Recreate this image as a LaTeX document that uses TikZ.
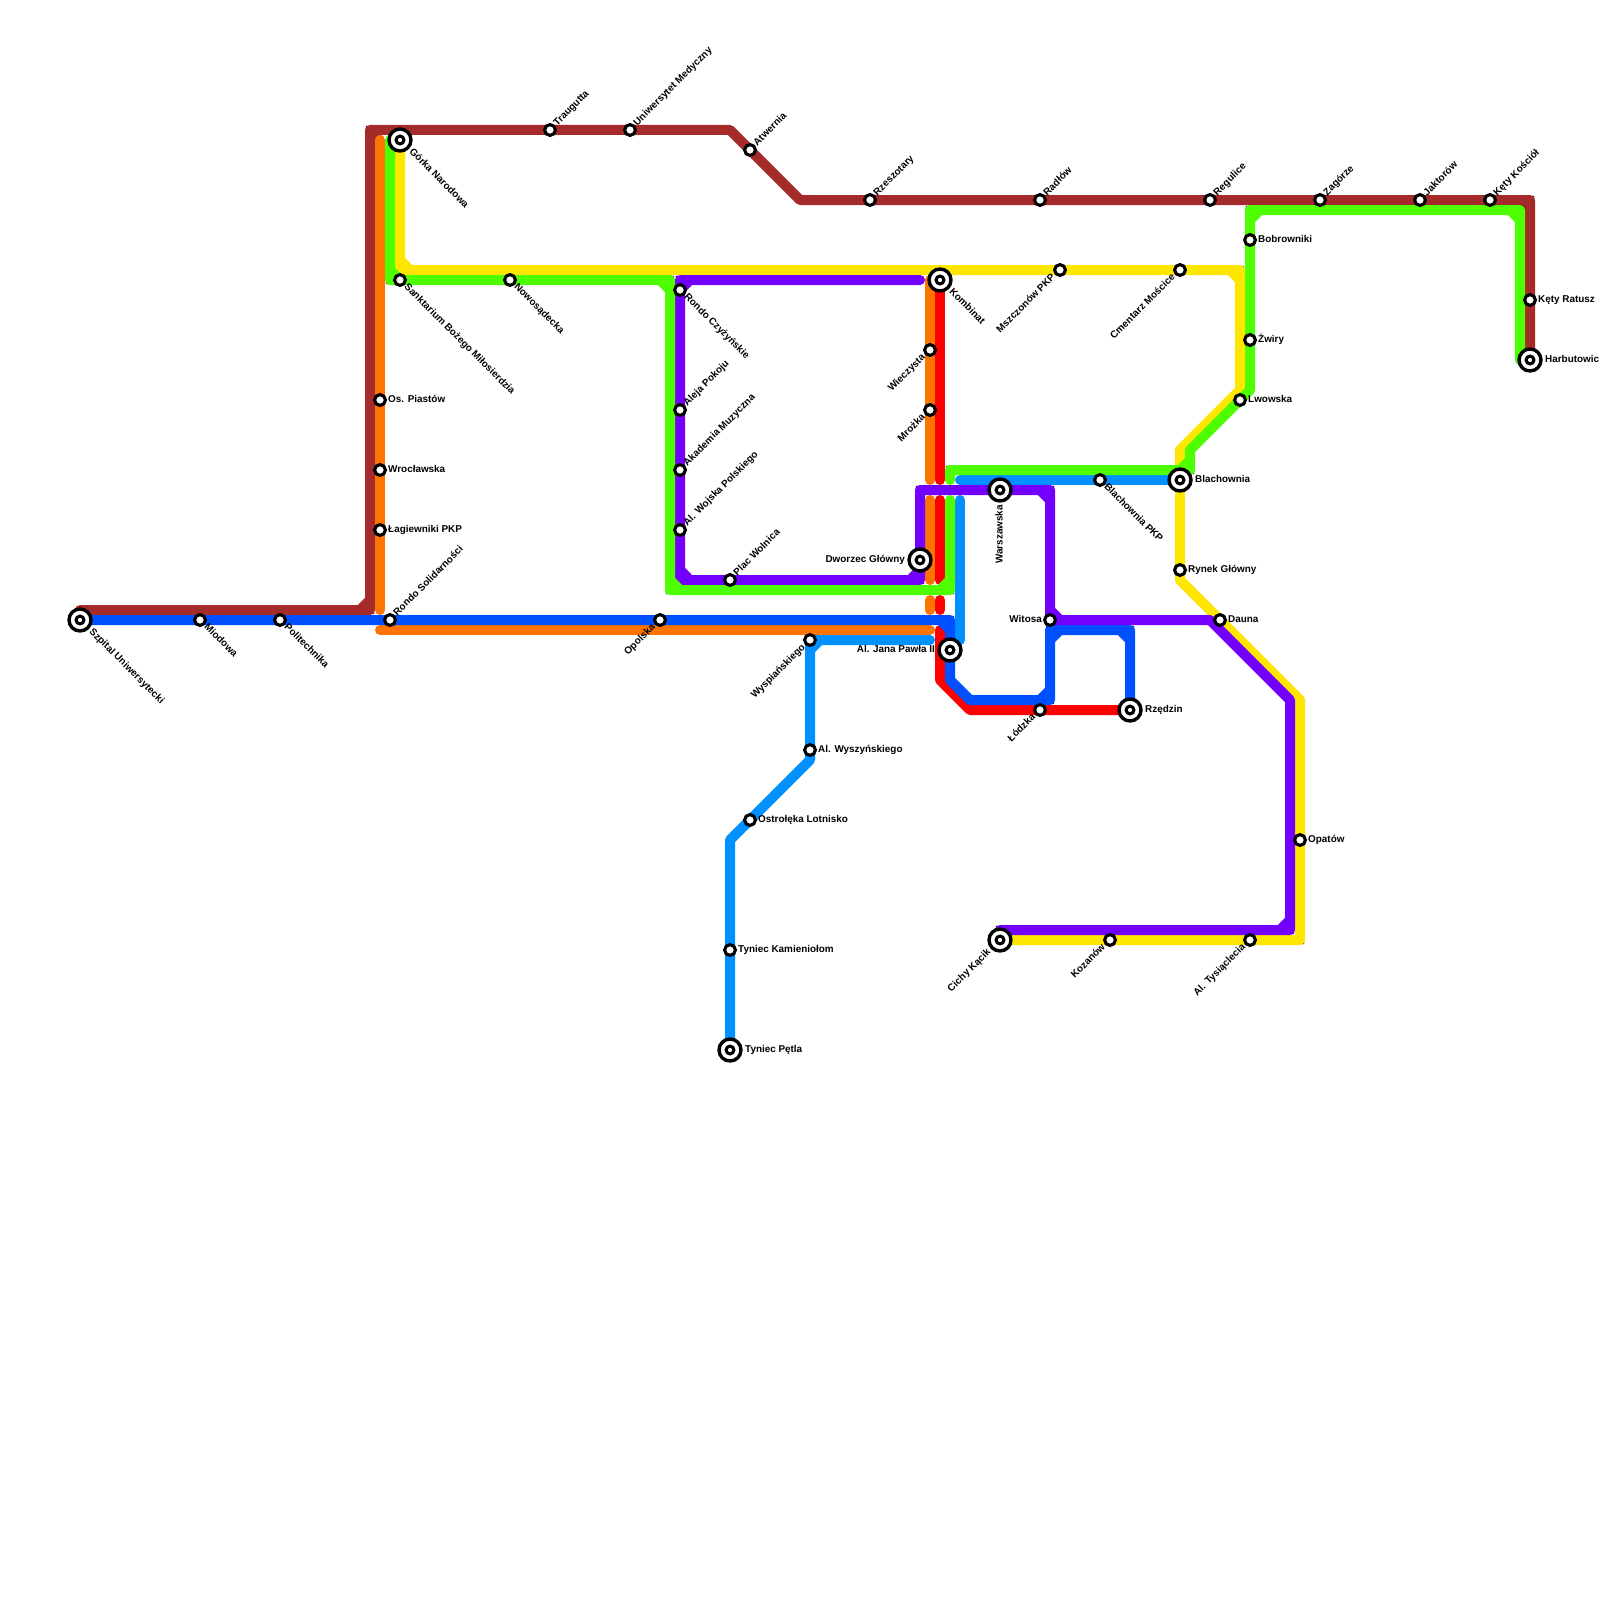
\documentclass[tikz,border=0pt]{standalone}
\usepackage{fontspec}
\setmainfont{Liberation Sans}
\usepackage{xcolor}
\usetikzlibrary{positioning,backgrounds}
\definecolor{lbrown}{HTML}{A52A2A}
\definecolor{lorange}{HTML}{FF7300}
\definecolor{lgreen}{HTML}{4DFF00}
\definecolor{lyellow}{HTML}{FFE600}
\definecolor{lpurple}{HTML}{7300FF}
\definecolor{lblue}{HTML}{0050FF}
\definecolor{lsky}{HTML}{0090FF}
\definecolor{lred}{HTML}{FF0000}
\tikzset{
  route/.style={line width=10pt, line cap=round, line join=round,
                preaction={draw, line width=8.4pt, line join=miter}},
  stn/.style={circle, draw=black, fill=white, line width=3.1pt, minimum size=10.8pt, inner sep=0pt},
  hub/.style={circle, draw=black, fill=white, line width=3.4pt, minimum size=22pt, inner sep=0pt,
              path picture={\draw[line width=3.1pt] (path picture bounding box.center) circle (3.9pt);}},
  lbl/.style={font=\fontsize{9.9}{10}\selectfont\bfseries, inner sep=0pt, text height=7pt, text depth=2pt},
  capr/.style={lbl, anchor=west, xshift=#1},
  capl/.style={lbl, anchor=east, xshift=-#1},
  capse/.style={lbl, anchor=west, xshift=#1, yshift=-#1, rotate=-45},
  capne/.style={lbl, anchor=west, xshift=#1, yshift=#1, rotate=45},
  capsw/.style={lbl, anchor=east, xshift=-#1, yshift=-#1, rotate=45},
}
\begin{document}
\begin{tikzpicture}[x=10pt, y=-10pt]
\useasboundingbox (0,0) rectangle (160,160);

% --- STATIONS ---
\node[hub] (szpital) at (8,62) {};
\node[stn] (miodowa) at (20,62) {};
\node[stn] (politech) at (28,62) {};
\node[stn] (solidar) at (39,62) {};
\node[stn] (piastow) at (38,40) {};
\node[stn] (wroclaw) at (38,47) {};
\node[stn] (lagiew) at (38,53) {};
\node[hub] (gorka) at (40,14) {};
\node[stn] (sankt) at (40,28) {};
\node[stn] (nowosad) at (51,28) {};
\node[stn] (traug) at (55,13) {};
\node[stn] (uniw) at (63,13) {};
\node[stn] (atwer) at (75,15) {};
\node[stn] (rzesz) at (87,20) {};
\node[stn] (radlow) at (104,20) {};
\node[stn] (regul) at (121,20) {};
\node[stn] (zagorze) at (132,20) {};
\node[stn] (jaktor) at (142,20) {};
\node[stn] (kosciol) at (149,20) {};
\node[stn] (ratusz) at (153,30) {};
\node[hub] (harbut) at (153,36) {};
\node[stn] (bobrow) at (125,24) {};
\node[stn] (zwiry) at (125,34) {};
\node[stn] (lwow) at (124,40) {};
\node[hub] (kombinat) at (94,28) {};
\node[stn] (mszcz) at (106,27) {};
\node[stn] (cmentarz) at (118,27) {};
\node[stn] (wieczysta) at (93,35) {};
\node[stn] (mrozka) at (93,41) {};
\node[stn] (czyzyn) at (68,29) {};
\node[stn] (pokoju) at (68,41) {};
\node[stn] (akademia) at (68,47) {};
\node[stn] (wojska) at (68,53) {};
\node[stn] (wolnica) at (73,58) {};
\node[hub] (dworzec) at (92,56) {};
\node[hub] (blach) at (118,48) {};
\node[hub] (warsz) at (100,49) {};
\node[stn] (blachpkp) at (110,48) {};
\node[stn] (rynek) at (118,57) {};
\node[stn] (witosa) at (105,62) {};
\node[stn] (dauna) at (122,62) {};
\node[hub] (pawla) at (95,65) {};
\node[stn] (wyspian) at (81,64) {};
\node[stn] (opolska) at (66,62) {};
\node[stn] (wyszyn) at (81,75) {};
\node[stn] (ostrol) at (75,82) {};
\node[stn] (kamien) at (73,95) {};
\node[hub] (petla) at (73,105) {};
\node[stn] (lodzka) at (104,71) {};
\node[hub] (rzedzin) at (113,71) {};
\node[stn] (opatow) at (130,84) {};
\node[hub] (cichy) at (100,94) {};
\node[stn] (kozanow) at (111,94) {};
\node[stn] (tysiac) at (125,94) {};

% --- FREE ENDS ---
\coordinate (brownstart) at (8,61);
\coordinate (greenstart) at (39,14);
\coordinate (greenstop) at (95,50);
\coordinate (greenhalf) at (95,48);
\coordinate (greenend) at (152,36);
\coordinate (orangetop) at (38,14);
\coordinate (orangebot) at (38,61);
\coordinate (orangeleft) at (38,63);
\coordinate (orangeright) at (93,63);
\coordinate (skyright) at (93,64);
\coordinate (skytop) at (96,50);
\coordinate (purpleend) at (92,28);

% --- LINES ---
\begin{scope}[on background layer]
\draw[lyellow, route] (gorka.center) -- (40,27) -- (124,27) -- (124,39) -- (118,45) -- (118,58) -- (130,70) -- (130,94) -- (cichy.center)
  (40,26) -- (41,27) (123,27) -- (124,28);
\draw[lbrown, route] (brownstart) -- (37,61) -- (37,13) -- (73,13) -- (80,20) -- (153,20) -- (harbut.center)
  (36,61) -- (37,60) (37,14) -- (38,13) (152,20) -- (153,21);
% orange is cut where it meets the others
\draw[lorange, route] (orangetop) -- (orangebot);
\draw[lorange, route] (orangeleft) -- (orangeright);
\draw[lorange, route] (93,28) -- (93,48);
\draw[lorange, route] (93,50) -- (93,58);
\draw[lorange, route] (93,60) -- (93,61);
% red too
\draw[lred, route] (kombinat.center) -- (94,48);
\draw[lred, route] (94,50) -- (94,58);
\draw[lred, route] (94,60) -- (94,61);
\draw[lred, route] (94,63) -- (94,68) -- (97,71) -- (rzedzin.center);
% sky
\draw[lsky, route] (petla.center) -- (73,84) -- (81,76) -- (81,64) -- (skyright)
  (81,65) -- (82,64);
\draw[lsky, route] (skytop) -- (96,64);
\draw[lsky, route] (96,48) -- (blach.center);
% blue
\draw[lblue, route] (szpital.center) -- (95,62) -- (95,68) -- (97,70) -- (105,70) -- (105,63) -- (113,63) -- (rzedzin.center)
  (94,62) -- (95,63) (104,70) -- (105,69) (105,64) -- (106,63) (112,63) -- (113,64);
% purple
\draw[lpurple, route] (cichy.center) -- (100,93) -- (129,93) -- (129,70) -- (121,62) -- (105,62) -- (105,49) -- (92,49) -- (92,58) -- (68,58) -- (68,28) -- (purpleend)
  (128,93) -- (129,92) (105,61) -- (106,62) (104,49) -- (105,50) (91,58) -- (92,57) (68,57) -- (69,58) (68,29) -- (69,28);
% green
\draw[lgreen, route] (greenstart) -- (39,28) -- (67,28) -- (67,59) -- (95,59) -- (greenstop)
  (39,27) -- (40,28) (66,28) -- (67,29) (67,58) -- (68,59) (94,59) -- (95,58);
\draw[lgreen, route] (greenhalf) -- (95,47) -- (119,47) -- (119,45) -- (125,39) -- (125,21) -- (152,21) -- (greenend)
  (118,47) -- (119,46) (125,22) -- (126,21) (151,21) -- (152,22);
\end{scope}

% --- NAMES ---
\node[capse=10.5pt] (t1) at (szpital) {Szpital Uniwersytecki};
\node[capse=5.5pt] (t2) at (miodowa) {Miodowa};
\node[capse=5.5pt] (t3) at (politech) {Politechnika};
\node[capne=5.5pt] (t4) at (solidar) {Rondo Solidarności};
\node[capr=8pt] (t5) at (piastow) {Os. Piastów};
\node[capr=8pt] (t6) at (wroclaw) {Wrocławska};
\node[capr=8pt] (t7) at (lagiew) {Łagiewniki PKP};
\node[capse=10.5pt] (t8) at (gorka) {Górka Narodowa};
\node[capse=5.5pt] (t9) at (sankt) {Sanktarium Bożego Miłosierdzia};
\node[capse=5.5pt] (t10) at (nowosad) {Nowosądecka};
\node[capne=5.5pt] (t11) at (traug) {Traugutta};
\node[capne=5.5pt] (t12) at (uniw) {Uniwersytet Medyczny};
\node[capne=5.5pt] (t13) at (atwer) {Atwernia};
\node[capne=5.5pt] (t14) at (rzesz) {Rzeszotary};
\node[capne=5.5pt] (t15) at (radlow) {Radłów};
\node[capne=5.5pt] (t16) at (regul) {Regulice};
\node[capne=5.5pt] (t17) at (zagorze) {Zagórze};
\node[capne=5.5pt] (t18) at (jaktor) {Jaktorów};
\node[capne=5.5pt] (t19) at (kosciol) {Kęty Kościół};
\node[capr=8pt] (t20) at (ratusz) {Kęty Ratusz};
\node[capr=15pt] (t21) at (harbut) {Harbutowic};
\node[capr=8pt] (t22) at (bobrow) {Bobrowniki};
\node[capr=8pt] (t23) at (zwiry) {Żwiry};
\node[capr=8pt] (t24) at (lwow) {Lwowska};
\node[capse=10.5pt] (t25) at (kombinat) {Kombinat};
\node[capsw=6pt] (t26) at (mszcz) {Mszczonów PKP};
\node[capsw=6pt] (t27) at (cmentarz) {Cmentarz Mościce};
\node[capsw=6pt] (t28) at (wieczysta) {Wieczysta};
\node[capsw=6pt] (t29) at (mrozka) {Mrożka};
\node[capse=5.5pt] (t30) at (czyzyn) {Rondo Czyżyńskie};
\node[capne=5.5pt] (t31) at (pokoju) {Aleja Pokoju};
\node[capne=5.5pt] (t32) at (akademia) {Akademia Muzyczna};
\node[capne=5.5pt] (t33) at (wojska) {Al. Wojska Polskiego};
\node[capne=5.5pt] (t34) at (wolnica) {Plac Wolnica};
\node[capl=15pt] (t35) at (dworzec) {Dworzec Główny};
\node[capr=15pt] (t36) at (blach) {Blachownia};
\node[lbl, anchor=east, yshift=-15pt, rotate=90] (t37) at (warsz) {Warszawska};
\node[capse=5.5pt] (t38) at (blachpkp) {Blachownia PKP};
\node[capr=8pt] (t39) at (rynek) {Rynek Główny};
\node[capl=8pt] (t40) at (witosa) {Witosa};
\node[capr=8pt] (t41) at (dauna) {Dauna};
\node[capl=15pt] (t42) at (pawla) {Al. Jana Pawła II};
\node[capsw=6pt] (t43) at (wyspian) {Wyspiańskiego};
\node[capsw=6pt] (t44) at (opolska) {Opolska};
\node[capr=8pt] (t45) at (wyszyn) {Al. Wyszyńskiego};
\node[capr=8pt] (t46) at (ostrol) {Ostrołęka Lotnisko};
\node[capr=8pt] (t47) at (kamien) {Tyniec Kamieniołom};
\node[capr=15pt] (t48) at (petla) {Tyniec Pętla};
\node[capsw=6pt] (t49) at (lodzka) {Łódzka};
\node[capr=15pt] (t50) at (rzedzin) {Rzędzin};
\node[capr=8pt] (t51) at (opatow) {Opatów};
\node[capsw=10.5pt] (t52) at (cichy) {Cichy Kącik};
\node[capsw=6pt] (t53) at (kozanow) {Kozanów};
\node[capsw=6pt] (t54) at (tysiac) {Al. Tysiąclecia};

\end{tikzpicture}
\end{document}
